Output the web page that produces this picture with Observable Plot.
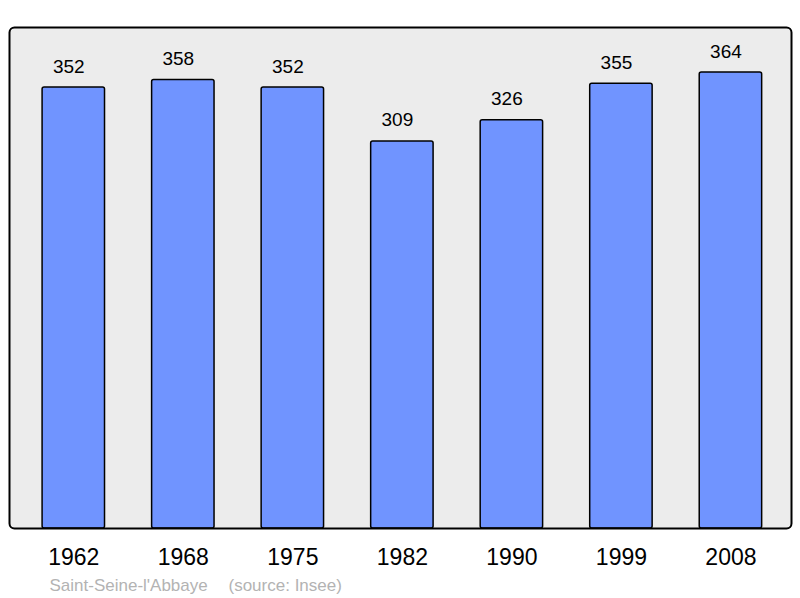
<!DOCTYPE html>
<html>
<head>
<meta charset="utf-8">
<script src="https://cdn.jsdelivr.net/npm/d3@7"></script>
<script src="https://cdn.jsdelivr.net/npm/@observablehq/plot@0.6"></script>
<style>
  body { margin: 0; background: #fff; }
  #chart svg { display: block; }
</style>
</head>
<body>
<div id="chart"></div>
<script>
const years = ["1962", "1968", "1975", "1982", "1990", "1999", "2008"];
const population = [352, 358, 352, 309, 326, 355, 364];
const placeName = "Saint-Seine-l'Abbaye";
const sourceText = "(source: Insee)";

const data = years.map((year, i) => ({year, value: population[i]}));

const chart = Plot.plot({
  width: 800,
  height: 598,
  marginLeft: 9,
  marginRight: 9,
  marginTop: 27,
  marginBottom: 70,
  style: {fontFamily: "'Liberation Sans', Arial, sans-serif", background: "#fff", color: "#000"},
  x: {domain: years, paddingInner: 0.43, paddingOuter: 0.285, align: 0.53, round: false, label: null},
  y: {domain: [0, 400], axis: null},
  marks: [
    Plot.frame({fill: "#ececec", rx: 5}),
    Plot.barY(data, {x: "year", y: "value", fill: "#7094ff", stroke: "#000", strokeWidth: 1.5, rx: 2}),
    Plot.text(data, {x: "year", y: "value", text: d => String(d.value), lineAnchor: "bottom", dy: -15, dx: -5, fontSize: 19, fill: "#000"}),
    Plot.frame({stroke: "#000", strokeWidth: 2, rx: 5}),
    Plot.axisX({tickSize: 0, tickPadding: 20, fontSize: 23, label: null}),
    Plot.text([placeName], {frameAnchor: "bottom-left", text: d => d, textAnchor: "start", lineAnchor: "bottom", dx: 40, dy: 62, fontSize: 17, fill: "#b3b3b3"}),
    Plot.text([sourceText], {frameAnchor: "bottom-left", text: d => d, textAnchor: "start", lineAnchor: "bottom", dx: 219, dy: 62, fontSize: 17, fill: "#b3b3b3"})
  ]
});
document.getElementById("chart").appendChild(chart);
</script>
</body>
</html>
